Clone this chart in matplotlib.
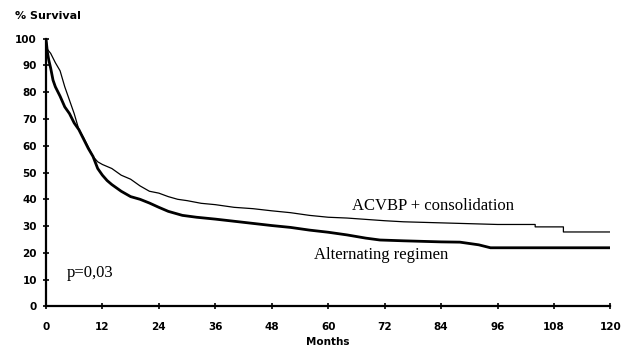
import matplotlib.pyplot as plt

# Kaplan-Meier survival (many tiny steps early on,
# so the curves are drawn as polylines, with the larger late steps listed twice)
months_acvbp = [0, 0.3, 1, 2, 3, 4, 5, 6, 7, 8, 9, 10, 11, 12, 14, 16, 18, 20, 22, 24,
                26, 28, 30, 33, 36, 40, 44, 48, 52, 56, 60, 64, 68, 72, 76, 80, 84,
                88, 92, 96, 104, 104, 110, 110, 120]
surv_acvbp = [100, 96, 94.5, 91, 88, 82, 77, 72, 66, 63, 59.5, 56, 54, 53, 51.5, 49, 47.5,
              45, 43, 42.3, 41, 40, 39.5, 38.5, 38, 37, 36.5, 35.7, 35, 34, 33.3, 33,
              32.5, 32, 31.6, 31.4, 31.2, 31, 30.8, 30.6, 30.6, 29.7, 29.7, 27.8, 27.8]

months_alt = [0, 0.3, 0.6, 1, 1.5, 2, 3, 4, 5, 6, 7, 8, 9, 10, 11, 12, 13, 14, 16, 18,
              20, 22, 24, 26, 29, 32, 36, 40, 44, 48, 52, 56, 60, 64, 68, 71, 76, 80,
              84, 88, 90, 92, 94.5, 120]
surv_alt = [100, 95, 92, 89, 84.5, 82, 78.5, 74.5, 72, 68.5, 66, 62.5, 59, 56, 51.5, 49,
            47, 45.5, 43, 41, 40, 38.6, 37, 35.5, 34, 33.3, 32.6, 31.8, 31, 30.2, 29.5,
            28.5, 27.7, 26.7, 25.5, 24.8, 24.5, 24.3, 24.1, 24, 23.5, 23, 21.9, 21.9]

x_ticks = [0, 12, 24, 36, 48, 60, 72, 84, 96, 108, 120]
y_ticks = [0, 10, 20, 30, 40, 50, 60, 70, 80, 90, 100]

fig = plt.figure(figsize=(6.21, 3.51), dpi=100)
ax = fig.add_axes([0.074, 0.127, 0.909, 0.763])

ax.plot(months_acvbp, surv_acvbp, color='black', lw=0.9)
ax.plot(months_alt, surv_alt, color='black', lw=2.0)

ax.set_xlim(0, 120)
ax.set_ylim(0, 100)
ax.set_xticks(x_ticks)
ax.set_yticks(y_ticks)
for side in ['top', 'right']:
    ax.spines[side].set_visible(False)
for side in ['left', 'bottom']:
    ax.spines[side].set_linewidth(1.6)
ax.tick_params(direction='inout', length=5, width=1.2, labelsize=7.5)
ax.tick_params(axis='x', pad=9)
ax.tick_params(axis='y', pad=4)
for lbl in ax.get_xticklabels() + ax.get_yticklabels():
    lbl.set_fontweight('bold')

ax.set_xlabel('Months', fontsize=7.5, fontweight='bold', labelpad=3)
fig.text(0.024, 0.955, '% Survival', fontsize=8, fontweight='bold', va='center')

serif = 'Liberation Serif'
ax.text(65, 37.5, 'ACVBP + consolidation', family=serif, fontsize=12, va='center')
ax.text(57, 19.2, 'Alternating regimen', family=serif, fontsize=12, va='center')
ax.text(4.4, 12.5, 'p=0,03', family=serif, fontsize=12, va='center')

fig.savefig('out.png', dpi=100)
